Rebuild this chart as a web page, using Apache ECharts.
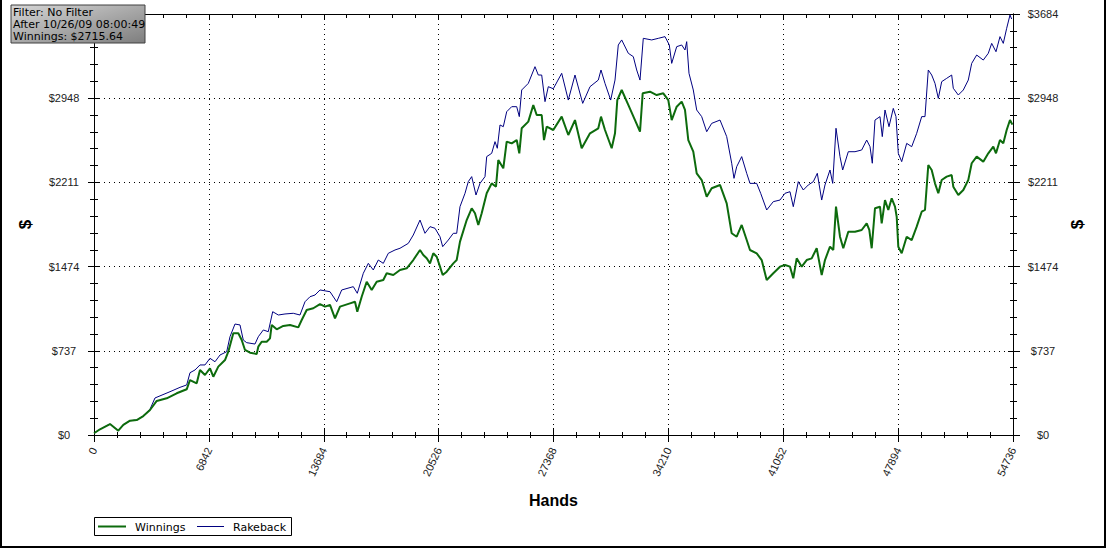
<!DOCTYPE html>
<html>
<head>
<meta charset="utf-8">
<script src="https://cdn.jsdelivr.net/npm/echarts@6/dist/echarts.min.js"></script>
<style>
html,body{margin:0;padding:0;background:#fff;}
#chart{width:1106px;height:549px;}
</style>
</head>
<body>
<div id="chart"></div>
<script>
// ---- data ----
const xTickLabels = ['0','6842','13684','20526','27368','34210','41052','47894','54736'];
const yTickLabels = ['$0','$737','$1474','$2211','$2948','$3684'];
const infoLines = ['Filter: No Filter','After 10/26/09 08:00:49','Winnings: $2715.64'];
const seriesNames = ['Winnings','Rakeback'];

const winHands = [0,357,953,1447,1745,2144,2543,2936,3335,3734,4330,4926,5521,5718,6117,6313,6611,6909,7106,7403,7802,7999,8297,8595,8797,8994,9291,9690,9786,9988,10286,10483,10584,10882,11275,11674,12168,12371,12668,13062,13461,13758,14056,14354,14652,15247,15545,15682,15944,16242,16540,16837,17231,17433,17826,18225,18624,19017,19417,19613,19816,20012,20209,20411,20608,20768,21007,21400,21602,21799,22198,22496,22692,22889,23091,23389,23687,23943,24080,24378,24580,24878,25176,25331,25474,25867,26165,26367,26665,26802,26963,27356,27856,28249,28648,29047,29542,30036,30197,30435,30834,31031,31168,31430,31823,32222,32520,32680,33115,33514,33908,34205,34408,34705,35003,35200,35397,35694,35897,36195,36492,36790,37285,37684,37981,38279,38577,38875,39071,39470,39768,40066,40459,40858,41156,41454,41650,41853,42151,42448,42746,43044,43342,43538,43836,44033,44194,44432,44628,44926,45325,45724,46022,46177,46320,46516,46814,46915,47112,47309,47511,47708,47809,47904,48107,48404,48702,49000,49298,49494,49691,49893,50090,50287,50489,50787,51084,51180,51478,51776,52073,52276,52573,52966,53264,53562,53723,53961,54158,54360,54557,54700];
const winVals = [15,50,96,38,88,125,131,166,219,298,321,365,400,481,452,569,525,584,510,598,656,729,890,890,831,744,720,709,773,816,816,846,963,925,954,963,942,1006,1094,1109,1146,1123,1138,1021,1123,1152,1166,1079,1210,1341,1269,1341,1356,1415,1400,1444,1459,1531,1619,1575,1546,1502,1590,1560,1473,1400,1429,1502,1531,1692,1881,1984,1940,1838,1940,2115,2202,2173,2406,2334,2567,2552,2581,2465,2684,2742,2888,2800,2800,2581,2698,2669,2786,2625,2756,2509,2640,2684,2786,2669,2509,2640,2931,3019,2888,2756,2654,2990,3004,2975,2990,2931,2756,2873,2917,2844,2581,2479,2290,2231,2085,2159,2188,2027,1765,1735,1838,1706,1619,1590,1531,1356,1415,1473,1488,1473,1371,1546,1473,1531,1546,1634,1400,1531,1648,1619,1998,1735,1634,1779,1779,1794,1852,1794,1634,1984,1998,1852,2056,1969,2071,1998,1910,1648,1590,1735,1706,1823,1954,1969,2363,2319,2202,2115,2231,2261,2275,2173,2100,2144,2231,2378,2436,2392,2465,2523,2465,2581,2552,2669,2756,2716];

const rbHands = [0,357,953,1447,1745,2144,2543,2936,3335,3633,4527,5122,5521,5718,6016,6313,6611,6909,7207,7505,7904,8100,8398,8696,8892,9095,9589,9786,10084,10381,10643,10977,11376,11870,12269,12567,12865,13163,13461,14056,14455,14753,15444,15682,16040,16338,16635,16933,17231,17528,17928,18225,18720,19017,19417,19714,20012,20310,20608,20768,21102,21400,21602,21799,22097,22293,22496,22752,22990,23288,23389,23687,23884,24021,24181,24378,24580,24878,25176,25331,25474,25867,26266,26463,26665,26862,27059,27356,27856,28249,28648,29108,29542,30036,30197,30435,30775,31031,31227,31430,31823,32121,32323,32520,32716,33217,33610,34009,34265,34408,34705,35003,35200,35301,35438,35694,35897,36195,36492,36790,37285,37684,37981,38118,38279,38577,38875,39071,39470,39708,40066,40459,40858,41156,41454,41650,41949,42246,42544,42842,43080,43342,43538,43836,43997,44194,44432,44592,44926,45325,45724,46022,46219,46356,46516,46814,46951,47112,47350,47606,47767,47904,48107,48404,48702,49000,49298,49494,49691,49893,50090,50287,50489,50787,51084,51180,51478,51776,52073,52276,52573,52966,53264,53467,53723,53961,54158,54360,54557,54658];
const rbVals = [15,50,96,38,88,125,131,166,225,324,379,417,438,545,569,613,613,671,641,700,729,860,971,963,831,808,796,860,919,904,1079,1050,1059,1065,1050,1166,1210,1225,1269,1254,1166,1269,1298,1240,1415,1502,1444,1531,1502,1590,1619,1634,1677,1750,1881,1765,1823,1809,1735,1648,1706,1765,1765,1998,2115,2217,2261,2100,2202,2261,2436,2465,2567,2509,2713,2698,2829,2873,2873,2786,3019,3077,3223,3150,3150,2917,3048,3030,3165,2931,3150,2902,3048,3106,3194,3077,2931,3106,3413,3457,3340,3311,3194,3106,3471,3457,3471,3486,3413,3252,3398,3413,3369,3442,3165,3019,2844,2786,2654,2727,2756,2611,2378,2246,2348,2436,2290,2202,2202,2115,1969,2042,2056,2115,2129,1998,2217,2144,2188,2217,2290,2056,2188,2319,2202,2684,2436,2319,2479,2479,2494,2581,2523,2378,2756,2786,2611,2844,2698,2858,2786,2465,2392,2552,2523,2640,2786,2786,3194,3150,3077,2946,3092,3121,3150,3034,2975,3019,3106,3252,3325,3281,3340,3427,3354,3486,3427,3559,3675,3640];

const X_MAX = 54736, X_INT = 6842;
const Y_MAX = 3684, Y_INT = 736.8;
const GREEN = '#0d6b0d', NAVY = '#000080';

// ---- chart ----
const chart = echarts.init(document.getElementById('chart'), null, {renderer: 'svg'});
const labelFont = 'Liberation Sans, Arial, sans-serif';
const uiFont = 'DejaVu Sans, Verdana, sans-serif';

function xAx(extra) {
  return Object.assign({
    type: 'value', min: 0, max: X_MAX, interval: X_INT,
    axisLine: {show: true, onZero: false, lineStyle: {color: '#000', width: 1}},
    axisLabel: {show: false},
    splitLine: {show: false},
    minorSplitLine: {show: false}
  }, extra);
}
function yAx(extra) {
  return Object.assign({
    type: 'value', min: 0, max: Y_MAX, interval: Y_INT,
    axisLine: {show: true, onZero: false, lineStyle: {color: '#000', width: 1}},
    axisLabel: {show: false},
    splitLine: {show: false},
    minorSplitLine: {show: false}
  }, extra);
}

const TOPZ = 200;
const option = {
  animation: false,
  backgroundColor: '#fff',
  grid: {left: 94, right: 93, top: 14, bottom: 114, containLabel: false},
  xAxis: [
    xAx({
      position: 'bottom',
      name: 'Hands', nameLocation: 'middle', nameGap: 57, nameMoveOverlap: false,
      nameTextStyle: {fontFamily: labelFont, fontSize: 16, fontWeight: 'bold', color: '#000'},
      axisTick: {show: true, inside: false, length: 7, lineStyle: {color: '#000'}},
      minorTick: {show: true, splitNumber: 5, length: 3, lineStyle: {color: '#000'}},
      axisLabel: {show: true, rotate: 65, margin: 13, fontFamily: labelFont, fontSize: 11, color: '#222',
        showMinLabel: true, showMaxLabel: true,
        formatter: (v) => xTickLabels[Math.round(v / X_INT)]},
      splitLine: {show: true, lineStyle: {color: '#000', width: 1, type: [1, 4]}}
    }),
    xAx({
      position: 'bottom',
      axisTick: {show: true, inside: true, length: 7, lineStyle: {color: '#000'}},
      minorTick: {show: true, splitNumber: 5, length: 3, lineStyle: {color: '#000'}}
    }),
    xAx({
      position: 'top',
      axisTick: {show: true, inside: true, length: 5, lineStyle: {color: '#000'}},
      minorTick: {show: true, splitNumber: 5, length: 4, lineStyle: {color: '#000'}}
    })
  ],
  yAxis: [
    yAx({
      position: 'left',
      name: '$', nameLocation: 'middle', nameGap: 60, nameMoveOverlap: false,
      nameTextStyle: {fontFamily: labelFont, fontSize: 17, fontWeight: 'bold', color: '#000'},
      axisTick: {show: true, inside: false, length: 6, lineStyle: {color: '#000'}},
      minorTick: {show: true, splitNumber: 5, length: 4, lineStyle: {color: '#000'}},
      // the top label on the left is hidden behind the info box in the reference
      axisLabel: {show: true, align: 'center', margin: 30, fontFamily: labelFont, fontSize: 11, color: '#222',
        showMinLabel: true, showMaxLabel: false,
        formatter: (v) => yTickLabels[Math.round(v / Y_INT)]},
      splitLine: {show: true, lineStyle: {color: '#000', width: 1, type: [1, 4]}}
    }),
    yAx({
      position: 'left',
      axisTick: {show: true, inside: true, length: 6, lineStyle: {color: '#000'}},
      minorTick: {show: true, splitNumber: 5, length: 4, lineStyle: {color: '#000'}}
    }),
    yAx({
      position: 'right',
      name: '$', nameLocation: 'middle', nameGap: 56, nameMoveOverlap: false,
      nameTextStyle: {fontFamily: labelFont, fontSize: 17, fontWeight: 'bold', color: '#000'},
      axisTick: {show: true, inside: false, length: 7, lineStyle: {color: '#000'}},
      minorTick: {show: true, splitNumber: 5, length: 4, lineStyle: {color: '#000'}},
      axisLabel: {show: true, align: 'center', margin: 30, fontFamily: labelFont, fontSize: 11, color: '#222',
        showMinLabel: true, showMaxLabel: true,
        formatter: (v) => yTickLabels[Math.round(v / Y_INT)]}
    }),
    yAx({
      position: 'right',
      axisTick: {show: true, inside: true, length: 5, lineStyle: {color: '#000'}},
      minorTick: {show: true, splitNumber: 5, length: 3, lineStyle: {color: '#000'}}
    })
  ],
  series: [
    {
      name: seriesNames[1], type: 'line', xAxisIndex: 0, yAxisIndex: 0,
      showSymbol: false, symbol: 'none', z: 3,
      lineStyle: {color: NAVY, width: 1}, itemStyle: {color: NAVY},
      data: rbHands.map((h, i) => [h, rbVals[i]])
    },
    {
      name: seriesNames[0], type: 'line', xAxisIndex: 0, yAxisIndex: 0,
      showSymbol: false, symbol: 'none', z: 4,
      lineStyle: {color: GREEN, width: 2}, itemStyle: {color: GREEN},
      data: winHands.map((h, i) => [h, winVals[i]])
    }
  ],
  graphic: [
    // outer frame
    {type: 'rect', z: TOPZ, silent: true,
      shape: {x: 1, y: -4, width: 1104, height: 551},
      style: {fill: 'none', stroke: '#000', lineWidth: 2}},
    // info box (drawn over the axes, as in the reference)
    {type: 'rect', z: TOPZ, silent: true,
      shape: {x: 11, y: 5, width: 134, height: 38},
      style: {
        fill: new echarts.graphic.LinearGradient(0, 0, 1, 1, [
          {offset: 0, color: '#d6d6d6'}, {offset: 1, color: '#7e7e7e'}
        ]),
        stroke: '#404040', lineWidth: 1
      }},
    {type: 'text', z: TOPZ + 1, silent: true, x: 13, y: 12, style: {text: infoLines[0], font: '11px ' + uiFont, fill: '#000', textVerticalAlign: 'middle'}},
    {type: 'text', z: TOPZ + 1, silent: true, x: 13, y: 24, style: {text: infoLines[1], font: '11px ' + uiFont, fill: '#000', textVerticalAlign: 'middle'}},
    {type: 'text', z: TOPZ + 1, silent: true, x: 13, y: 36, style: {text: infoLines[2], font: '11px ' + uiFont, fill: '#000', textVerticalAlign: 'middle'}},
    // legend
    {type: 'rect', z: TOPZ, silent: true, shape: {x: 94.5, y: 517.5, width: 197, height: 18},
      style: {fill: '#fff', stroke: '#000', lineWidth: 1}},
    {type: 'line', z: TOPZ + 1, silent: true, shape: {x1: 98, y1: 526.5, x2: 126, y2: 526.5}, style: {stroke: GREEN, lineWidth: 2}},
    {type: 'text', z: TOPZ + 1, silent: true, x: 135, y: 527, style: {text: seriesNames[0], font: '11px ' + uiFont, fill: '#000', textVerticalAlign: 'middle'}},
    {type: 'line', z: TOPZ + 1, silent: true, shape: {x1: 197, y1: 526.5, x2: 224, y2: 526.5}, style: {stroke: NAVY, lineWidth: 1}},
    {type: 'text', z: TOPZ + 1, silent: true, x: 233, y: 527, style: {text: seriesNames[1], font: '11px ' + uiFont, fill: '#000', textVerticalAlign: 'middle'}}
  ]
};
chart.setOption(option);
</script>
</body>
</html>
